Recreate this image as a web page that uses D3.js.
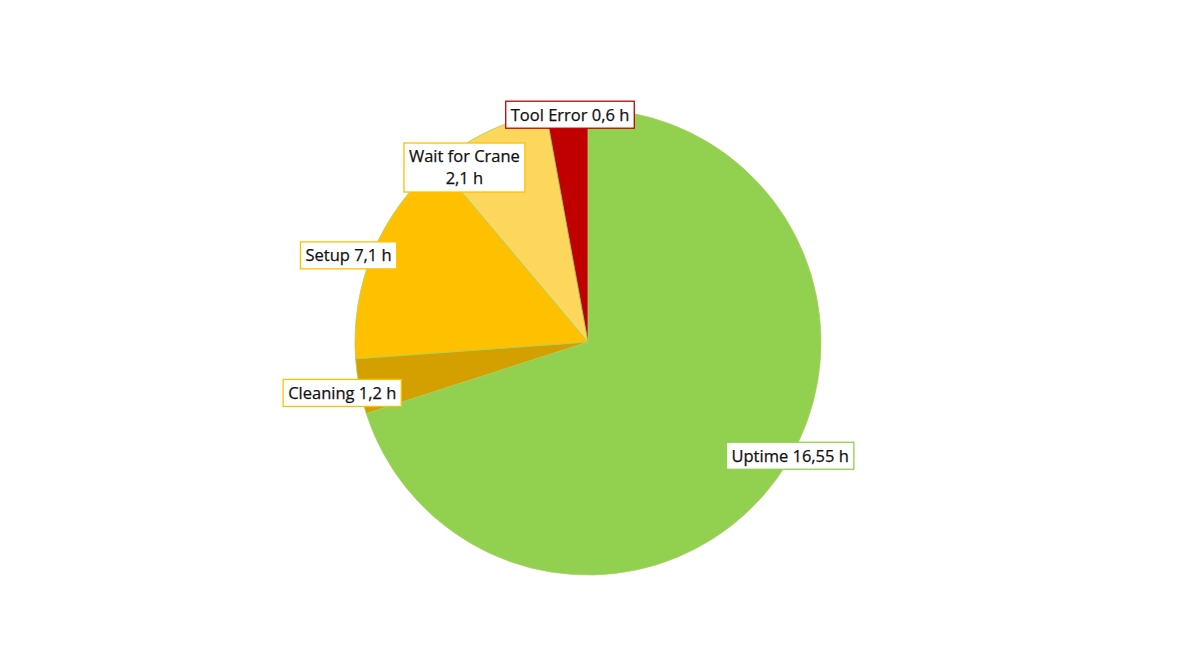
<!DOCTYPE html>
<html>
<head>
<meta charset="utf-8">
<script src="https://cdn.jsdelivr.net/npm/d3@7"></script>
<style>
  html, body { margin: 0; padding: 0; background: #ffffff; }
  svg { display: block; }
  text { font-family: "Open Sans", "Noto Sans", sans-serif; }
</style>
</head>
<body>
<svg id="chart" width="1190" height="670"></svg>
<script>
// Categories in drawing order (clockwise from 12 o'clock)
const categories = ["Uptime", "Cleaning", "Setup", "Wait for Crane", "Tool Error"];
// Hours shown in the labels
const hours = [16.55, 1.2, 7.1, 2.1, 0.6];
// Slice sizes
const sliceValues = [16.55, 0.9, 3.55, 1.95, 0.68];
const colors = ["#92D050", "#D4A000", "#FFC000", "#FDD75C", "#C00000"];
const labelBorders = ["#92D050", "#FFC000", "#FFC000", "#FFC000", "#C00000"];

const svg = d3.select("#chart");
const cx = 588, cy = 342, R = 233;

const data = categories.map((c, i) => ({ name: c, hours: hours[i], v: sliceValues[i], color: colors[i], border: labelBorders[i] }));

const pie = d3.pie().value(d => d.v).sort(null).startAngle(0).endAngle(2 * Math.PI);
const arcs = pie(data);
const arc = d3.arc().innerRadius(0).outerRadius(R);

const g = svg.append("g").attr("transform", `translate(${cx},${cy})`);
g.selectAll("path.slice").data(arcs).enter().append("path")
  .attr("class", "slice")
  .attr("d", arc)
  .attr("fill", d => d.data.color)
  .attr("stroke", "#A8CF5E")
  .attr("stroke-width", 0.8);

// label placement: angle shift (deg) and radius relative to mid-angle of slice
const labelLayout = {
  "Uptime": { da: -6.7, r: 232 },
  "Cleaning": { da: -0.7, r: 251 },
  "Setup": { da: -3, r: 254.6 },
  "Wait for Crane": { da: -10.1, r: 213.8 },
  "Tool Error": { da: 0.65, r: 228 }
};
const fmt = v => String(v).replace(".", ",") + " h";
const lines = d => d.data.name === "Wait for Crane"
  ? [d.data.name, fmt(d.data.hours)]
  : [d.data.name + " " + fmt(d.data.hours)];

const fontSize = 16.5, lineH = 22, padX = 5;
const lg = g.selectAll("g.label").data(arcs).enter().append("g").attr("class", "label");
lg.each(function(d) {
  const L = labelLayout[d.data.name];
  const a = (d.startAngle + d.endAngle) / 2 + L.da * Math.PI / 180;
  const x = L.r * Math.sin(a), y = -L.r * Math.cos(a);
  const sel = d3.select(this);
  const ls = lines(d);
  const rect = sel.append("rect");
  const t = sel.append("text")
    .attr("font-size", fontSize)
    .attr("fill", "#111111")
    .attr("stroke", "#111111")
    .attr("stroke-width", 0.25)
    .attr("text-anchor", "middle");
  const totalH = ls.length === 1 ? 27 : 49;
  ls.forEach((s, i) => {
    t.append("tspan").attr("x", x)
      .attr("y", y - (ls.length - 1) * lineH / 2 + i * lineH)
      .attr("dy", "0.35em")
      .text(s);
  });
  const bb = t.node().getBBox();
  rect.attr("x", x - bb.width / 2 - padX)
    .attr("y", y - totalH / 2)
    .attr("width", bb.width + 2 * padX)
    .attr("height", totalH)
    .attr("fill", "#ffffff")
    .attr("stroke", d.data.border)
    .attr("stroke-width", 1.3);
});
</script>
</body>
</html>
